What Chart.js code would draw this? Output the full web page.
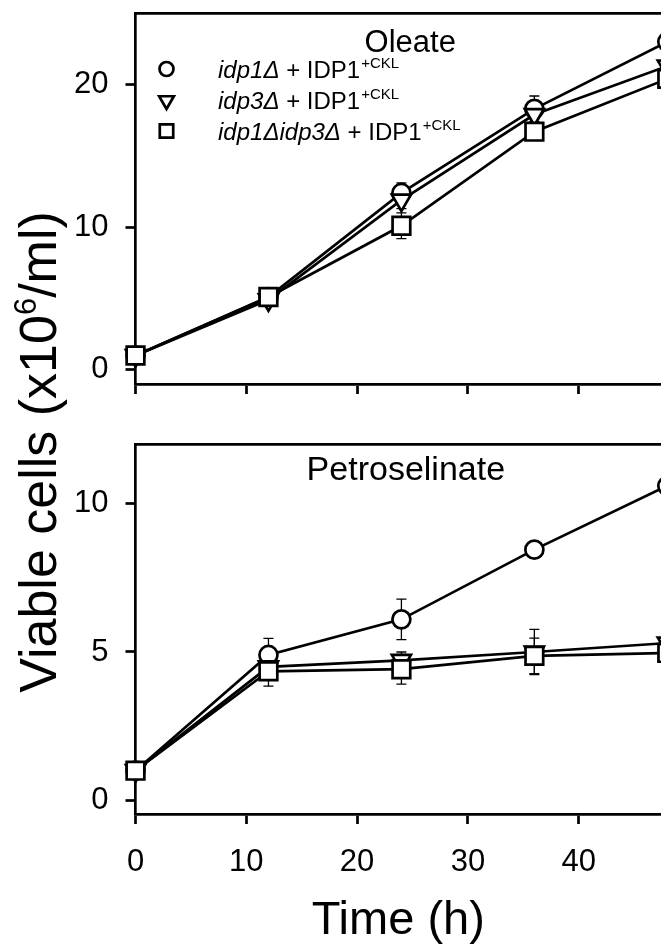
<!DOCTYPE html>
<html>
<head>
<meta charset="utf-8">
<script src="https://cdn.jsdelivr.net/npm/chart.js@4.4.1/dist/chart.umd.min.js"></script>
<style>
  html, body { margin: 0; padding: 0; background: #fff; overflow: hidden; }
  #wrap { position: relative; width: 661px; height: 946px; }
  #wrap canvas { position: absolute; left: 0; top: 0; }
</style>
</head>
<body>
<div id="wrap">
  <canvas id="oleateChart" width="661" height="946"></canvas>
  <canvas id="petroChart" width="661" height="946"></canvas>
</div>
<script>
// time points (h)
const hours = [0, 12, 24, 36, 48];
const xTicks = [0, 10, 20, 30, 40];

// legend labels: italic genotype, plain part, superscript tag
const strainNames = ['idp1Δ', 'idp3Δ', 'idp1Δidp3Δ'];
const plasmidName = ' + IDP1';
const plasmidTag = '+CKL';

// Oleate panel (x10^6 cells/ml)
const oleateIdp1 = [1.0, 5.1, 12.4, 18.3, 23.0];
const oleateIdp3 = [1.0, 4.9, 11.9, 17.9, 21.3];
const oleateIdp1Idp3 = [1.0, 5.1, 10.1, 16.7, 20.4];
const oleateIdp1Err = [0, 0.2, 0.7, 0.9, 0.4];
const oleateIdp3Err = [0, 0.2, 0.6, 0.5, 0.4];
const oleateIdp1Idp3Err = [0, 0.2, 0.9, 0.4, 0.4];

// Petroselinate panel
const petroIdp1 = [1.0, 4.9, 6.1, 8.45, 10.6];
const petroIdp3 = [1.0, 4.5, 4.72, 5.0, 5.3];
const petroIdp1Idp3 = [1.0, 4.35, 4.42, 4.87, 4.97];
const petroIdp1Err = [0, 0.56, 0.68, 0.15, 0.3];
const petroIdp3Err = [0, 0.3, 0.28, 0.76, 0.3];
const petroIdp1Idp3Err = [0, 0.5, 0.5, 0.6, 0.3];

const xMax = 47.43; // the figure is cut off on the right
const fontFamily = '"Liberation Sans", Arial, Helvetica, sans-serif';
const lineW = 2.7;

const markers = [
    { style: 'circle', radius: 9, rotation: 0, legendRadius: 7 },
    { style: 'triangle', radius: 11, rotation: 180, legendRadius: 8.5 },
    { style: 'rect', radius: 12.5, rotation: 0, legendRadius: 9.5 }
];

function makeDatasets(seriesList, errList) {
    return seriesList.map((vals, i) => ({
        label: strainNames[i],
        data: hours.map((h, j) => ({ x: h, y: vals[j] })),
        err: errList[i],
        borderColor: '#000',
        backgroundColor: '#fff',
        borderWidth: lineW,
        pointStyle: markers[i].style,
        pointRadius: markers[i].radius,
        pointRotation: markers[i].rotation,
        pointBorderWidth: lineW,
        pointBorderColor: '#000',
        pointBackgroundColor: '#fff',
        tension: 0,
        clip: false,
        order: 2 - i
    }));
}

// keep the plot area exactly where the layout padding puts it
function noScalePadding(s) {
    s.paddingTop = 0; s.paddingBottom = 0; s.paddingLeft = 0; s.paddingRight = 0;
}

function makeScales(yMin, yMax, yStep, showXLabels, xHeight) {
    return {
        x: {
            type: 'linear', min: 0, max: xMax,
            afterFit: s => { s.height = xHeight; noScalePadding(s); },
            afterBuildTicks: s => { s.ticks = xTicks.map(v => ({ value: v })); },
            ticks: { display: showXLabels, color: '#000', padding: 20, maxRotation: 0,
                     font: { family: fontFamily, size: 31 } },
            grid: { display: true, drawOnChartArea: false, drawTicks: true,
                    tickLength: 10, tickWidth: lineW, tickColor: '#000' },
            border: { display: true, color: '#000', width: lineW },
            title: {
                display: showXLabels, text: 'Time (h)', color: '#000',
                font: { family: fontFamily, size: 47, lineHeight: 1 }, padding: { top: 0, bottom: 1.5 }
            }
        },
        y: {
            type: 'linear', min: yMin, max: yMax,
            afterFit: s => { s.width = 135.5; noScalePadding(s); },
            ticks: { stepSize: yStep, includeBounds: false, color: '#000', padding: 17,
                     font: { family: fontFamily, size: 31 } },
            grid: { display: true, drawOnChartArea: false, drawTicks: true,
                    tickLength: 10, tickWidth: lineW, tickColor: '#000' },
            border: { display: true, color: '#000', width: lineW }
        }
    };
}

// thin error bars with caps, behind the markers
const errorBars = {
    id: 'errorBars',
    beforeDatasetsDraw(chart) {
        const { ctx, scales: { x, y } } = chart;
        ctx.save();
        ctx.strokeStyle = '#000';
        ctx.lineWidth = 1.3;
        chart.data.datasets.forEach(ds => {
            ds.data.forEach((p, j) => {
                const e = ds.err[j];
                if (!e) return;
                const px = x.getPixelForValue(p.x);
                const top = y.getPixelForValue(p.y + e);
                const bot = y.getPixelForValue(p.y - e);
                ctx.beginPath();
                ctx.moveTo(px, top); ctx.lineTo(px, bot);
                ctx.moveTo(px - 5, top); ctx.lineTo(px + 5, top);
                ctx.moveTo(px - 5, bot); ctx.lineTo(px + 5, bot);
                ctx.stroke();
            });
        });
        ctx.restore();
    }
};

// top edge of the frame + panel title
const panelFrame = {
    id: 'panelFrame',
    afterDraw(chart, args, opts) {
        const { ctx, chartArea, scales: { x } } = chart;
        ctx.save();
        ctx.strokeStyle = '#000';
        ctx.lineWidth = lineW;
        ctx.beginPath();
        ctx.moveTo(chartArea.left - lineW / 2, chartArea.top);
        ctx.lineTo(chartArea.right + 5, chartArea.top);
        ctx.stroke();
        ctx.fillStyle = '#000';
        ctx.font = opts.size + 'px ' + fontFamily;
        ctx.textAlign = 'center';
        ctx.textBaseline = 'alphabetic';
        ctx.fillText(opts.text, x.getPixelForValue(opts.at), chartArea.top + opts.dy);
        ctx.restore();
    }
};

// legend with italic genotype and superscript tag
const strainLegend = {
    id: 'strainLegend',
    afterDraw(chart) {
        const ctx = chart.ctx;
        ctx.save();
        ctx.textBaseline = 'alphabetic';
        ctx.textAlign = 'left';
        const rowY = [69, 100.5, 131];
        strainNames.forEach((name, i) => {
            const m = markers[i];
            ctx.strokeStyle = '#000';
            ctx.fillStyle = '#fff';
            ctx.lineWidth = lineW;
            Chart.helpers.drawPoint(ctx, {
                pointStyle: m.style, radius: m.legendRadius, rotation: m.rotation, borderWidth: lineW
            }, 166.5, rowY[i]);
            ctx.fillStyle = '#000';
            let tx = 218;
            const base = rowY[i] + 8.5;
            ctx.font = 'italic 24px ' + fontFamily;
            ctx.fillText(name, tx, base);
            tx += ctx.measureText(name).width;
            ctx.font = '24px ' + fontFamily;
            ctx.fillText(plasmidName, tx, base);
            tx += ctx.measureText(plasmidName).width + 1;
            ctx.font = '15px ' + fontFamily;
            ctx.fillText(plasmidTag, tx, base - 10);
        });
        ctx.restore();
    }
};

// shared y axis title spanning both panels
const sharedYTitle = {
    id: 'sharedYTitle',
    afterDraw(chart) {
        const ctx = chart.ctx;
        const parts = [
            { t: 'Viable cells (x10', size: 52, dy: 0 },
            { t: '6', size: 31, dy: -20 },
            { t: '/ml)', size: 52, dy: 0 }
        ];
        ctx.save();
        ctx.translate(56, 452);
        ctx.rotate(-Math.PI / 2);
        ctx.fillStyle = '#000';
        ctx.textBaseline = 'alphabetic';
        ctx.textAlign = 'left';
        let total = 0;
        parts.forEach(p => { ctx.font = p.size + 'px ' + fontFamily; p.w = ctx.measureText(p.t).width; total += p.w; });
        let tx = -total / 2;
        parts.forEach(p => {
            ctx.font = p.size + 'px ' + fontFamily;
            ctx.fillText(p.t, tx, p.dy);
            tx += p.w;
        });
        ctx.restore();
    }
};

const commonOptions = {
    responsive: false,
    animation: false,
    devicePixelRatio: 1,
    events: []
};

new Chart(document.getElementById('oleateChart'), {
    type: 'line',
    data: { datasets: makeDatasets([oleateIdp1, oleateIdp3, oleateIdp1Idp3],
                                   [oleateIdp1Err, oleateIdp3Err, oleateIdp1Idp3Err]) },
    options: Object.assign({}, commonOptions, {
        layout: { autoPadding: false, padding: { top: 13.3, right: 0, left: 0, bottom: 946 - 384 - 20 } },
        scales: makeScales(-1, 25, 10, false, 20),
        plugins: {
            legend: { display: false }, tooltip: { enabled: false },
            panelFrame: { text: 'Oleate', at: 24.8, dy: 38.7, size: 31 }
        }
    }),
    plugins: [errorBars, panelFrame, strainLegend]
});

new Chart(document.getElementById('petroChart'), {
    type: 'line',
    data: { datasets: makeDatasets([petroIdp1, petroIdp3, petroIdp1Idp3],
                                   [petroIdp1Err, petroIdp3Err, petroIdp1Idp3Err]) },
    options: Object.assign({}, commonOptions, {
        layout: { autoPadding: false, padding: { top: 444.3, right: 0, left: 0, bottom: 0 } },
        scales: makeScales(-0.46, 12, 5, true, 946 - 814),
        plugins: {
            legend: { display: false }, tooltip: { enabled: false },
            panelFrame: { text: 'Petroselinate', at: 24.4, dy: 35.7, size: 34 }
        }
    }),
    plugins: [errorBars, panelFrame, sharedYTitle]
});
</script>
</body>
</html>
